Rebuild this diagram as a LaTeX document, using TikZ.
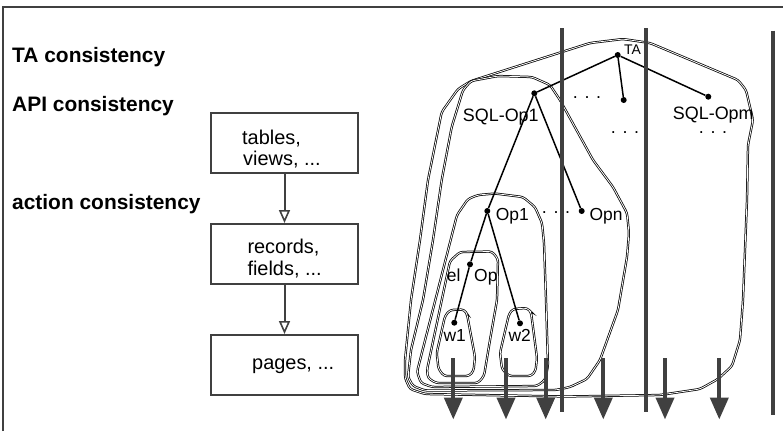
\documentclass[tikz,border=0pt]{standalone}
\usepackage{fontspec}
\setmainfont{Liberation Sans}
\usetikzlibrary{arrows.meta}
\definecolor{ink}{RGB}{64,64,64}

\begin{document}
\begin{tikzpicture}[x=1bp,y=-1bp,
  lvl/.style={font=\fontsize{21}{25}\selectfont\bfseries, anchor=base west, inner sep=0pt},
  boxtxt/.style={font=\fontsize{20}{24}\selectfont, anchor=base west, inner sep=0pt},
  levelbox/.style={draw=ink, line width=2bp, minimum width=147bp, minimum height=60bp, inner sep=0pt},
  flow/.style={draw=ink, line width=2bp, -{Triangle[open,length=13bp,width=11bp,line width=1.6bp]}},
  hull/.style={draw=black, line width=0.75bp, double=white, double distance=0.8bp, rounded corners=3bp},
  bar/.style={draw=ink, line width=4bp},
  down/.style={draw=ink, line width=4bp, -{Triangle[length=22bp,width=18bp]}},
  pt/.style={circle, fill=black, inner sep=0pt, minimum size=6bp},
  lbl/.style={font=\fontsize{18}{22}\selectfont, anchor=base west, inner sep=0pt},
  sml/.style={font=\fontsize{17.5}{21}\selectfont, anchor=base west, inner sep=0pt},
  dots/.style={font=\fontsize{18}{22}\selectfont, anchor=base, inner sep=0pt, text height=3bp, text depth=0pt},
  edge/.style={draw=black, line width=1.5bp},
]
\useasboundingbox (0,0) rectangle (783,431);

% frame
\draw[ink, line width=1.5bp] (3,431) -- (3,7) -- (783,7);

% consistency levels
\node[lvl] (lta)  at (12,62.3)  {TA consistency};
\node[lvl] (lapi) at (12,111)   {API consistency};
\node[lvl] (lact) at (12,209.5) {action consistency};

% storage levels
\node[levelbox] (b1) at (284.5,143) {};
\node[levelbox] (b2) at (284.5,254) {};
\node[levelbox] (b3) at (284.5,365) {};
\node[boxtxt] (t1a) at (242,144.5) {tables,};
\node[boxtxt] (t1b) at (243,165)   {views, ...};
\node[boxtxt] (t2a) at (247.3,253.3) {records,};
\node[boxtxt] (t2b) at (247.3,275)   {fields, ...};
\node[boxtxt] (t3)  at (252,369.5)   {pages, ...};
\draw[flow] (b1) -- (b2);
\draw[flow] (b2) -- (b3);

% nested scopes
\draw[hull] (471,81) -- (590,43) -- (623,39) -- (650,43) -- (738,80) -- (746,90)
  -- (753,120) -- (748,145) -- (747,200) -- (743,300) -- (740,340) -- (732,366)
  -- (718,379) -- (700,389) -- (660,395) -- (566,396.5) -- (425,394) -- (410,389)
  -- (405,378) -- (405,360) -- (411,300) -- (420,240) -- (428,180) -- (441.7,112)
  -- (458,89) -- cycle;
\draw[hull] (471,81) -- (498,76) -- (532,77) -- (550,85) -- (560,100) -- (593,160)
  -- (613,187) -- (627,213) -- (629,233) -- (627,257) -- (618,310) -- (600,360)
  -- (587,379) -- (570,387) -- (556,390) -- (425,390.5) -- (413,386) -- (408,377)
  -- (411,350) -- (423,300) -- (433,240) -- (441.7,180) -- (451.7,127) -- (463,90)
  -- cycle;
\draw[hull] (478,195) -- (495,193.5) -- (523,197) -- (535,207) -- (542,223)
  -- (544,243) -- (546,300) -- (548,366) -- (545,380) -- (537,386) -- (432,387)
  -- (421,383) -- (417,372) -- (457,215) -- (468,199) -- cycle;
\draw[hull] (460,252) -- (492,251.5) -- (498,259) -- (497,300) -- (490,340)
  -- (484,376) -- (478,383) -- (436,383) -- (428,378) -- (427,370) -- (450,261) -- cycle;
\draw[hull] (450,310) -- (464,309.5) -- (467,314) -- (475,357) -- (473.5,371)
  -- (469,376) -- (444,376) -- (438.5,369) -- (436.7,353) -- (445,316) -- cycle;
\draw[hull] (513,309) -- (527,308) -- (531,312) -- (537,358) -- (535.5,371)
  -- (531,376) -- (509,376) -- (502,369) -- (500,353) -- (509,314) -- cycle;

% transaction tree
\node[pt] (ta)   at (617.7,55)   {};
\node[pt] (sq1)  at (534.3,93.3) {};
\node[pt] (sqk)  at (623.7,100)  {};
\node[pt] (sqm)  at (708.3,96.7) {};
\node[pt] (op1)  at (487.3,211)  {};
\node[pt] (opn)  at (581.7,211)  {};
\node[pt] (elop) at (470,264.3)  {};
\node[pt] (w1)   at (454.3,322.7) {};
\node[pt] (w2)   at (520,323.3)  {};
\draw[edge] (ta) -- (sq1);
\draw[edge] (ta) -- (sqk);
\draw[edge] (ta) -- (sqm);
\draw[edge] (sq1) -- (op1);
\draw[edge] (sq1) -- (opn);
\draw[edge] (op1) -- (elop);
\draw[edge] (elop) -- (w1);
\draw[edge] (op1) -- (w2);

\node[font=\fontsize{14}{16}\selectfont, anchor=base west, inner sep=0pt] (tatxt) at (624,54.3) {TA};
\node[lbl] (sq1txt) at (462.7,121.7) {SQL-Op1};
\node[lbl] (sqmtxt) at (672.7,119.3) {SQL-Opm};
\node[sml] (op1txt) at (495.7,220) {Op1};
\node[sml] (opntxt) at (589.3,220) {Opn};
\node[sml] (eltxt)  at (446.7,281) {el};
\node[sml] (optxt)  at (474,281)   {Op};
\node[sml] (w1txt)  at (443.3,341.7) {w1};
\node[sml] (w2txt)  at (508.3,341.7) {w2};
\node[dots] (d1) at (587,98.2)  {. . .};
\node[dots] (d2) at (625,133.2) {. . .};
\node[dots] (d3) at (713,133.2) {. . .};
\node[dots] (d4) at (556,213.8) {. . .};

% serialization boundaries
\draw[bar] (561.7,28) -- (561.7,412);
\draw[bar] (645.7,28) -- (645.7,412);
\draw[bar] (773.3,30.7) -- (773.3,415);

% page writes
\foreach \x/\n in {453.3/a, 506/b, 545.7/c, 603.3/d, 665/e, 719.3/f} {
  \coordinate (s\n) at (\x,358.3);
  \coordinate (e\n) at (\x,419.5);
  \draw[down] (s\n) -- (e\n);
}
\end{tikzpicture}
\end{document}
